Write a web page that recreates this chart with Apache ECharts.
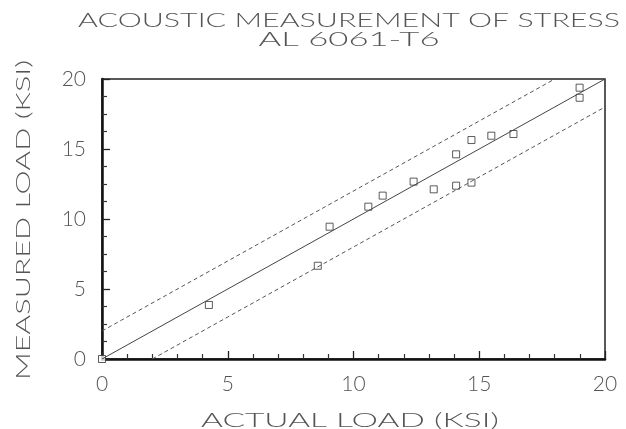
<!DOCTYPE html>
<html><head><meta charset="utf-8">
<script src="https://cdn.jsdelivr.net/npm/echarts@6/dist/echarts.min.js"></script>
<style>html,body{margin:0;padding:0;background:#fff}#c{width:626px;height:429px}</style>
</head><body><div id="c"></div>
<script>
var titleLines = ['ACOUSTIC MEASUREMENT OF STRESS', 'AL 6061-T6'];
var xName = 'ACTUAL LOAD (KSI)';
var yName = 'MEASURED LOAD (KSI)';
var actualLoad   = [0, 4.25, 8.58, 9.05, 10.59, 11.16, 12.39, 13.19, 14.08, 14.08, 14.69, 14.69, 15.48, 16.36, 18.99, 18.99];
var measuredLoad = [0, 3.86, 6.66, 9.45, 10.88, 11.67, 12.67, 12.12, 14.62, 12.38, 15.64, 12.60, 15.95, 16.07, 19.38, 18.66];
var fitLineX = [0, 20], fitLineY = [0, 20];
var upperBandX = [0, 18], upperBandY = [2, 20];
var lowerBandX = [2, 20], lowerBandY = [0, 18];

function pairs(a, b) { return a.map(function (v, i) { return [v, b[i]]; }); }

var txtColor = '#555';
var fontFamily = 'Lato';
var fontCss = '300 19px ' + fontFamily;
var mctx = document.createElement('canvas').getContext('2d');
function label(text, x, y, targetWidth, rot) {
  mctx.font = fontCss;
  var w = mctx.measureText(text).width;
  return {type: 'text', x: x, y: y, rotation: rot || 0, scaleX: targetWidth / w, scaleY: 1,
    style: {text: text, fill: txtColor, font: fontCss, textAlign: 'center', textVerticalAlign: 'middle'}};
}
function axisOpt(minorSplit, labelMargin) {
  return {
    type: 'value', min: 0, max: 20, interval: 5,
    axisLine: {show: true, onZero: false, lineStyle: {color: '#111', width: 2.5}},
    axisTick: {show: true, inside: true, length: 8, lineStyle: {color: '#222', width: 1.3}},
    minorTick: {show: true, splitNumber: minorSplit, length: 5, lineStyle: {color: '#333', width: 1.2}},
    splitLine: {show: false},
    axisLabel: {color: txtColor, fontFamily: fontFamily, fontWeight: 300, fontSize: 21, margin: labelMargin}
  };
}
var chart = echarts.init(document.getElementById('c'), null, {renderer: 'canvas'});
chart.setOption({
  animation: false,
  backgroundColor: '#fff',
  grid: {left: 102, right: 21, top: 79, bottom: 70, show: true, borderColor: '#222', borderWidth: 1.5},
  graphic: [
    label(titleLines[0], 349, 21, 542),
    label(titleLines[1], 349, 40, 181),
    label(xName, 350, 421, 298),
    label(yName, 24, 220, 320, Math.PI / 2)
  ],
  xAxis: axisOpt(5, 15),
  yAxis: axisOpt(4, 16),
  series: [
    {type: 'line', data: pairs(fitLineX, fitLineY), symbol: 'none', lineStyle: {color: '#444', width: 1}},
    {type: 'line', data: pairs(upperBandX, upperBandY), symbol: 'none', lineStyle: {color: '#555', width: 1, type: [4, 3]}},
    {type: 'line', data: pairs(lowerBandX, lowerBandY), symbol: 'none', lineStyle: {color: '#555', width: 1, type: [4, 3]}},
    {type: 'scatter', data: pairs(actualLoad, measuredLoad), symbol: 'rect', symbolSize: 7,
      itemStyle: {color: '#fff', borderColor: '#333', borderWidth: 1}}
  ]
});
</script></body></html>
